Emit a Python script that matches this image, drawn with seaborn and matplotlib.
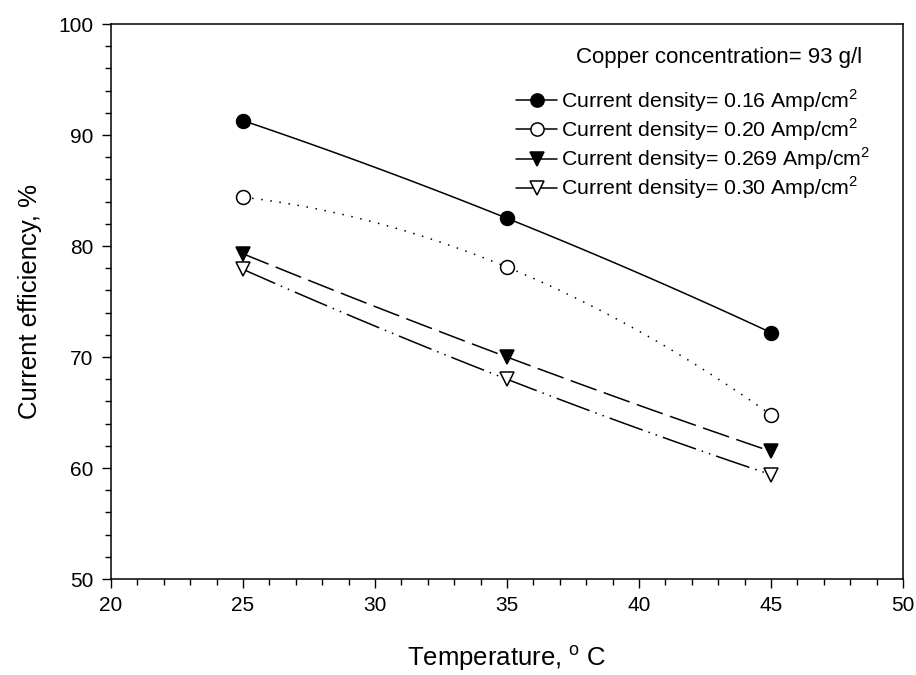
import numpy as np
import pandas as pd
import matplotlib
matplotlib.use('Agg')
import matplotlib.pyplot as plt
from matplotlib.lines import Line2D
from matplotlib.ticker import MultipleLocator
import seaborn as sns

# values
temperature = [25, 35, 45]
eff_016 = [91.3, 82.5, 72.2]
eff_020 = [84.4, 78.1, 64.8]
eff_0269 = [79.3, 70.0, 61.5]
eff_030 = [77.9, 68.0, 59.4]
labels = ['Current density= 0.16 Amp/cm$^\\mathregular{2}$',
          'Current density= 0.20 Amp/cm$^\\mathregular{2}$',
          'Current density= 0.269 Amp/cm$^\\mathregular{2}$',
          'Current density= 0.30 Amp/cm$^\\mathregular{2}$']

data = pd.DataFrame({
    'Temperature': temperature * 4,
    'Efficiency': eff_016 + eff_020 + eff_0269 + eff_030,
    'Series': np.repeat(labels, len(temperature)),
})

sns.set_style('ticks')
plt.rcParams['font.family'] = ['Liberation Sans', 'DejaVu Sans']
plt.rcParams['mathtext.fontset'] = 'custom'
plt.rcParams['mathtext.rm'] = 'Liberation Sans'
for key in ['text.color', 'axes.labelcolor', 'xtick.color', 'ytick.color', 'axes.edgecolor']:
    plt.rcParams[key] = 'black'

fig = plt.figure(figsize=(9.16, 6.75), dpi=100)
ax = fig.add_axes([0.1212, 0.1422, 0.8646, 0.8222])

styles = [
    dict(marker='o', face='black', ls='-'),
    dict(marker='o', face='white', ls=(0, (1, 5))),
    dict(marker='v', face='black', ls=(0, (18, 5))),
    dict(marker='v', face='white', ls=(0, (23, 4, 1, 4, 1, 4))),
]

handles = []
for lab, st in zip(labels, styles):
    sub = data[data['Series'] == lab]
    sns.regplot(data=sub, x='Temperature', y='Efficiency', order=2, ci=None,
                scatter=False, truncate=True, ax=ax,
                line_kws=dict(color='black', lw=1.1, ls=st['ls']))
    ax.plot(sub['Temperature'], sub['Efficiency'], ls='none', marker=st['marker'],
            ms=10, mfc=st['face'], mec='black', mew=1.1, zorder=5)
    handles.append(Line2D([], [], color='black', lw=1.1, ls='-', marker=st['marker'],
                          ms=9.5, mfc=st['face'], mec='black', mew=1.1))

ax.set_xlim(20, 50)
ax.set_ylim(50, 100)
ax.xaxis.set_major_locator(MultipleLocator(5))
ax.xaxis.set_minor_locator(MultipleLocator(1))
ax.yaxis.set_major_locator(MultipleLocator(10))
ax.yaxis.set_minor_locator(MultipleLocator(2))
ax.tick_params(which='major', length=6.5, width=1, labelsize=15, pad=6, color='black')
ax.tick_params(which='minor', length=4, width=1, color='black')
for sp in ax.spines.values():
    sp.set_linewidth(1.1)
    sp.set_color('black')

ax.set_xlabel('Temperature, $^\\mathregular{o}$ C', fontsize=18.5, labelpad=20)
ax.set_ylabel('Current efficiency, %', fontsize=18.5, labelpad=12)

ax.text(0.948, 0.94, 'Copper concentration= 93 g/l', transform=ax.transAxes,
        ha='right', va='center', fontsize=16)
ax.legend(handles, labels, loc='upper right', bbox_to_anchor=(0.972, 0.905),
          frameon=False, fontsize=15.3, handlelength=1.9, handletextpad=0.2,
          labelspacing=0.12, borderpad=0)

fig.savefig('out.png', dpi=100)
